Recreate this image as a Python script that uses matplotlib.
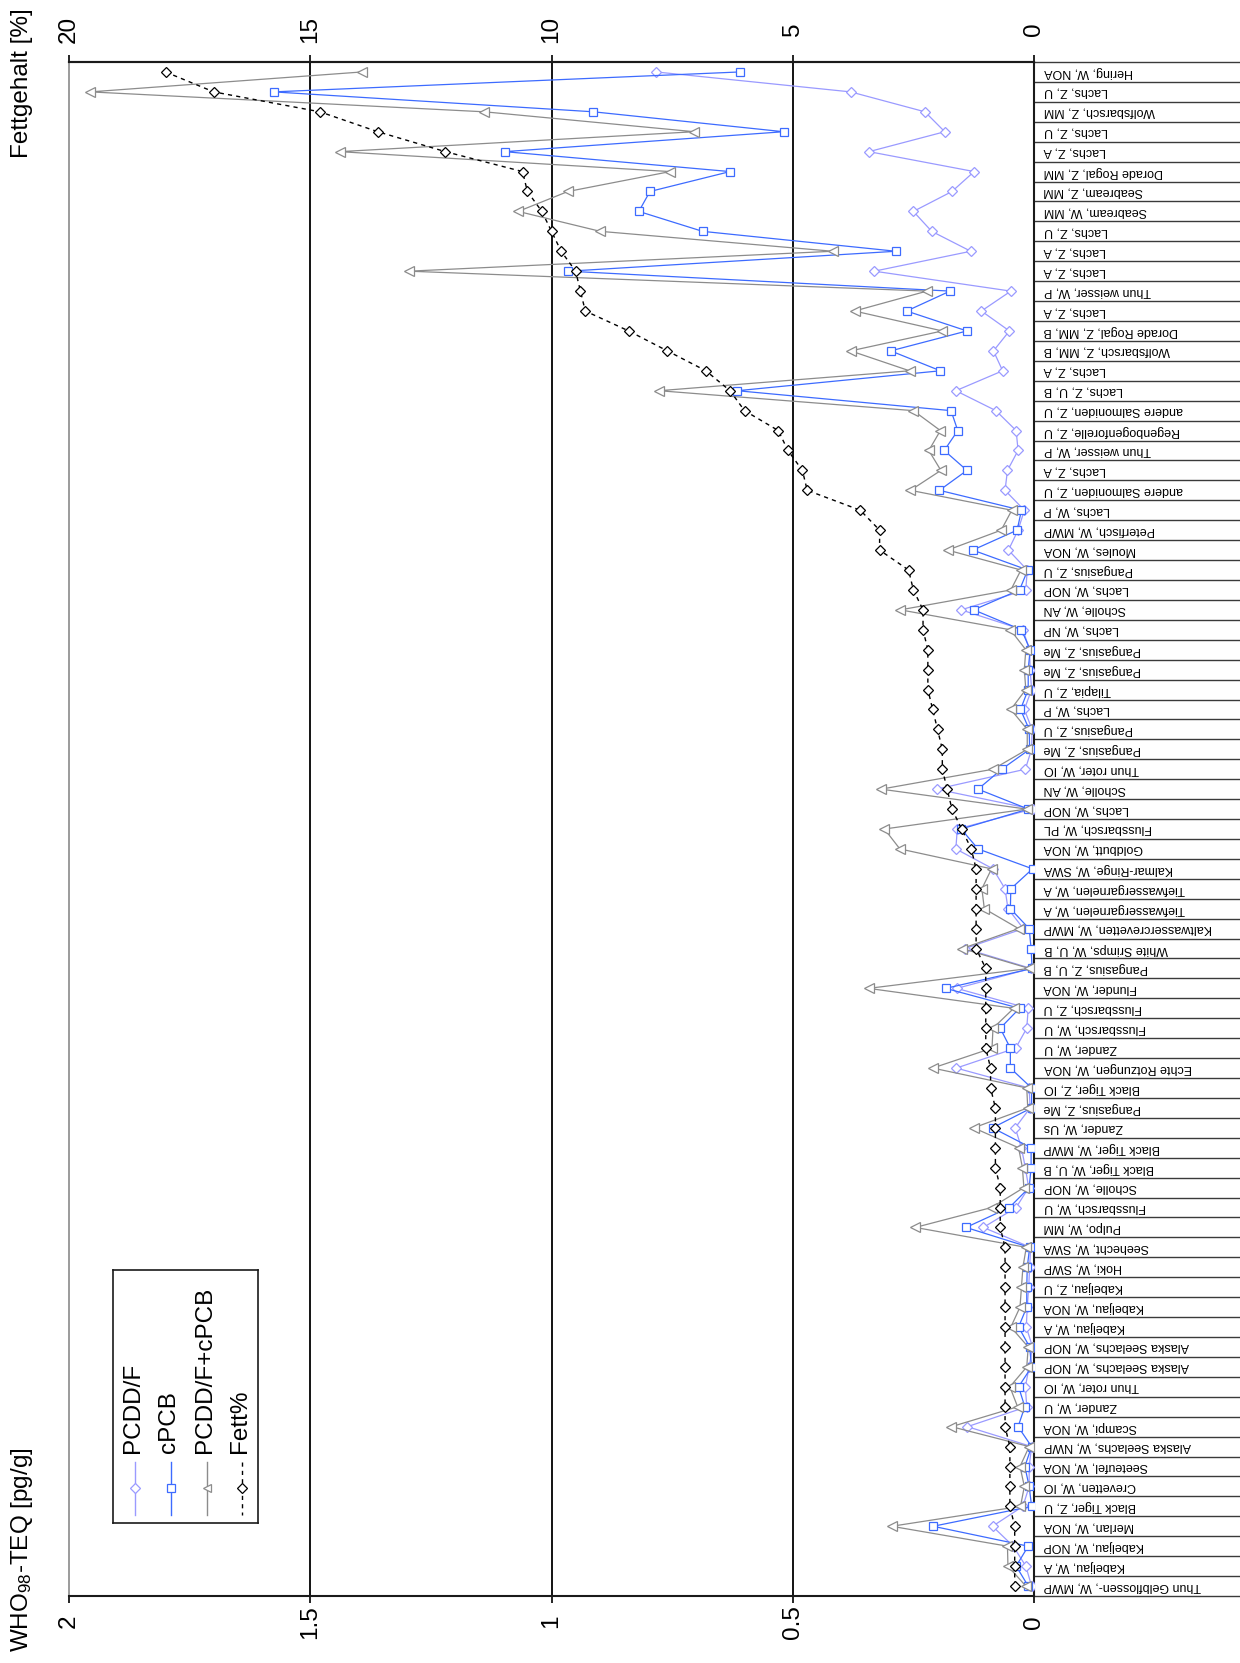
import matplotlib
matplotlib.use("Agg")
import matplotlib.pyplot as plt
import numpy as np

plt.rcParams["font.family"] = ["Liberation Sans", "DejaVu Sans"]
plt.rcParams["mathtext.default"] = "regular"

# samples, listed top to bottom as drawn
categories = [
    "Hering, W, NOA", "Lachs, Z, U", "Wolfsbarsch, Z, MM", "Lachs, Z, U", "Lachs, Z, A",
    "Dorade Rogal, Z, MM", "Seabream, Z, MM", "Seabream, W, MM", "Lachs, Z, U", "Lachs, Z, A",
    "Lachs, Z, A", "Thun weisser, W, P", "Lachs, Z, A", "Dorade Rogal, Z, MM, B", "Wolfsbarsch, Z, MM, B",
    "Lachs, Z, A", "Lachs, Z, U, B", "andere Salmoniden, Z, U", "Regenbogenforelle, Z, U", "Thun weisser, W, P",
    "Lachs, Z, A", "andere Salmoniden, Z, U", "Lachs, W, P", "Peterfisch, W, MWP", "Moules, W, NOA",
    "Pangasius, Z, U", "Lachs, W, NOP", "Scholle, W, AN", "Lachs, W, NP", "Pangasius, Z, Me",
    "Pangasius, Z, Me", "Tilapia, Z, U", "Lachs, W, P", "Pangasius, Z, U", "Pangasius, Z, Me",
    "Thun roter, W, IO", "Scholle, W, AN", "Lachs, W, NOP", "Flussbarsch, W, PL", "Goldbutt, W, NOA",
    "Kalmar-Ringe, W, SWA", "Tiefwassergarnelen, W, A", "Tiefwassergarnelen, W, A", "Kaltwassercrevetten, W, MWP", "White Srimps, W, U, B",
    "Pangasius, Z, U, B", "Flunder, W, NOA", "Flussbarsch, Z, U", "Flussbarsch, W, U", "Zander, W, U",
    "Echte Rotzungen, W, NOA", "Black Tiger, Z, IO", "Pangasius, Z, Me", "Zander, W, Us", "Black Tiger, W, MWP",
    "Black Tiger, W, U, B", "Scholle, W, NOP", "Flussbarsch, W, U", "Pulpo, W, MM", "Seehecht, W, SWA",
    "Hoki, W, SWP", "Kabeljau, Z, U", "Kabeljau, W, NOA", "Kabeljau, W, A", "Alaska Seelachs, W, NOP",
    "Alaska Seelachs, W, NOP", "Thun roter, W, IO", "Zander, W, U", "Scampi, W, NOA", "Alaska Seelachs, W, NWP",
    "Seeteufel, W, NOA", "Crevetten, W, IO", "Black Tiger, Z, U", "Merlan, W, NOA", "Kabeljau, W, NOP",
    "Kabeljau, W, A", "Thun Gelbflossen-, W, MWP",
]

# WHO98-TEQ in pg/g
pcdd_f = [
    0.783, 0.380, 0.226, 0.185, 0.342, 0.124, 0.170, 0.250, 0.212, 0.131,
    0.331, 0.048, 0.109, 0.051, 0.084, 0.065, 0.162, 0.079, 0.037, 0.033,
    0.055, 0.060, 0.020, 0.033, 0.053, 0.014, 0.017, 0.151, 0.023, 0.009,
    0.008, 0.005, 0.020, 0.004, 0.005, 0.018, 0.202, 0.003, 0.159, 0.162,
    0.085, 0.060, 0.054, 0.022, 0.143, 0.006, 0.160, 0.012, 0.015, 0.038,
    0.161, 0.010, 0.008, 0.039, 0.026, 0.018, 0.011, 0.037, 0.105, 0.007,
    0.009, 0.011, 0.014, 0.016, 0.003, 0.010, 0.018, 0.015, 0.138, 0.005,
    0.010, 0.010, 0.023, 0.086, 0.043, 0.017, 0.005,
]
cpcb = [
    0.610, 1.576, 0.913, 0.519, 1.097, 0.630, 0.796, 0.819, 0.687, 0.286,
    0.965, 0.174, 0.264, 0.139, 0.297, 0.194, 0.615, 0.172, 0.158, 0.186,
    0.139, 0.196, 0.026, 0.035, 0.127, 0.013, 0.030, 0.125, 0.026, 0.008,
    0.012, 0.012, 0.028, 0.010, 0.009, 0.067, 0.116, 0.012, 0.151, 0.116,
    0.003, 0.048, 0.049, 0.010, 0.006, 0.004, 0.183, 0.030, 0.070, 0.049,
    0.049, 0.005, 0.005, 0.086, 0.006, 0.006, 0.010, 0.051, 0.141, 0.009,
    0.014, 0.015, 0.015, 0.032, 0.009, 0.005, 0.032, 0.019, 0.033, 0.005,
    0.019, 0.010, 0.005, 0.209, 0.012, 0.037, 0.012,
]
pcdd_f_cpcb = [
    1.393, 1.956, 1.139, 0.704, 1.439, 0.754, 0.966, 1.069, 0.899, 0.417,
    1.296, 0.222, 0.372, 0.190, 0.380, 0.258, 0.777, 0.250, 0.194, 0.218,
    0.193, 0.256, 0.046, 0.068, 0.179, 0.027, 0.048, 0.277, 0.049, 0.017,
    0.020, 0.017, 0.048, 0.014, 0.014, 0.085, 0.317, 0.015, 0.310, 0.278,
    0.088, 0.108, 0.103, 0.032, 0.149, 0.010, 0.343, 0.042, 0.085, 0.087,
    0.210, 0.015, 0.013, 0.125, 0.032, 0.024, 0.021, 0.088, 0.246, 0.016,
    0.023, 0.026, 0.029, 0.048, 0.012, 0.015, 0.050, 0.034, 0.171, 0.010,
    0.029, 0.020, 0.028, 0.295, 0.055, 0.054, 0.017,
]
# fat content in %
fett = [
    18.0, 17.0, 14.8, 13.6, 12.2, 10.6, 10.5, 10.2, 10.0, 9.8,
    9.5, 9.4, 9.3, 8.4, 7.6, 6.8, 6.3, 6.0, 5.3, 5.1,
    4.8, 4.7, 3.6, 3.2, 3.2, 2.6, 2.5, 2.3, 2.3, 2.2,
    2.2, 2.2, 2.1, 2.0, 1.9, 1.9, 1.8, 1.7, 1.5, 1.3,
    1.2, 1.2, 1.2, 1.2, 1.2, 1.0, 1.0, 1.0, 1.0, 1.0,
    0.9, 0.9, 0.8, 0.8, 0.8, 0.8, 0.7, 0.7, 0.7, 0.6,
    0.6, 0.6, 0.6, 0.6, 0.6, 0.6, 0.6, 0.6, 0.6, 0.5,
    0.5, 0.5, 0.5, 0.4, 0.4, 0.4, 0.4,
]

teq_ticks = [2, 1.5, 1, 0.5, 0]
teq_labels = ["2", "1.5", "1", "0.5", "0"]
fett_ticks = [20, 15, 10, 5, 0]
fett_labels = ["20", "15", "10", "5", "0"]

LIGHT = "#9a9aff"
BLUE = "#3d6bff"
GRAY = "#8c8c8c"
FS = 17.5

W, H = 1240, 1663
fig = plt.figure(figsize=(W / 100, H / 100), dpi=100)
ax = fig.add_axes([69 / W, 67 / H, (1034 - 69) / W, (1596 - 62) / H])

n = len(categories)
y = np.arange(n)

for v in teq_ticks[1:-1]:
    ax.axvline(v, color="black", lw=1.3, zorder=1)

ax.plot(pcdd_f, y, color=LIGHT, lw=0.9, marker="D", ms=5, mfc="white", mec=LIGHT, mew=0.9, zorder=3)
ax.plot(cpcb, y, color=BLUE, lw=0.9, marker="s", ms=5.5, mfc="white", mec=BLUE, mew=0.9, zorder=4)
ax.plot(pcdd_f_cpcb, y, color=GRAY, lw=0.9, marker="<", ms=6.5, mfc="white", mec=GRAY, mew=0.9, zorder=5)

ax.set_xlim(2, 0)
ax.set_ylim(n - 0.5, -0.5)
ax.set_xticks(teq_ticks)
ax.set_xticklabels(teq_labels)
ax.tick_params(axis="x", direction="out", length=5, width=1.2, labelsize=FS, labelrotation=90, pad=13.5)
for lbl in ax.get_xticklabels():
    lbl.set_verticalalignment("center")

# category labels on the right, upside down, boxed by long separator ticks
ax.yaxis.tick_right()
ax.set_yticks(y)
ax.set_yticklabels(categories, rotation=180, fontsize=9, va="center", ha="left")
ax.set_yticks(np.arange(-0.5, n), minor=True)
ax.tick_params(axis="y", which="major", length=0, pad=7)
ax.tick_params(axis="y", which="minor", length=150, width=1.0, color="#3a3a3a", right=True, left=False)

ax.spines["left"].set_color("#8a8a8a")
ax.spines["left"].set_linewidth(1.2)
for s in ("right", "top", "bottom"):
    ax.spines[s].set_color("#1a1a1a")
    ax.spines[s].set_linewidth(1.5)

# fat content on the secondary value axis
ax2 = ax.twiny()
ax2.plot(fett, y, color="black", lw=1.0, ls=(0, (3, 3)), marker="D", ms=5, mfc="white", mec="black", mew=0.9, zorder=6)
ax2.set_xlim(20, 0)
ax2.set_ylim(n - 0.5, -0.5)
ax2.set_xticks(fett_ticks)
ax2.set_xticklabels(fett_labels)
ax2.tick_params(axis="x", direction="out", length=5, width=1.2, labelsize=FS, labelrotation=90, pad=18.5)
for lbl in ax2.get_xticklabels():
    lbl.set_verticalalignment("center")
for s in ("left", "right", "bottom"):
    ax2.spines[s].set_visible(False)
ax2.spines["top"].set_color("#1a1a1a")
ax2.spines["top"].set_linewidth(1.5)

fig.text(22 / W, 1 - 1652 / H, "WHO$_{98}$-TEQ [pg/g]", rotation=90, ha="center", va="bottom", fontsize=FS)
fig.text(22 / W, 1 - 158 / H, "Fettgehalt [%]", rotation=90, ha="center", va="bottom", fontsize=FS)

# legend with vertical entries
leg = fig.add_axes([113 / W, (H - 1523) / H, 145 / W, 253 / H])
leg.set_xlim(113, 258)
leg.set_ylim(1523, 1270)
leg.set_xticks([])
leg.set_yticks([])
for s in leg.spines.values():
    s.set_color("#1a1a1a")
    s.set_linewidth(1.2)

entries = [
    ("PCDD/F", LIGHT, "D", "-", 135),
    ("cPCB", BLUE, "s", "-", 171),
    ("PCDD/F+cPCB", GRAY, "<", "-", 207),
    ("Fett%", "black", "D", (0, (3, 3)), 242),
]
for label, color, marker, ls, xpos in entries:
    leg.plot([xpos, xpos], [1462, 1515], color=color, lw=1.0, ls=ls)
    leg.plot([xpos], [1488], marker=marker, ms=5.5, mfc="white", mec=color, mew=0.9, color=color)
    leg.text(xpos - 2, 1453, label, rotation=90, ha="center", va="bottom", fontsize=FS)

fig.savefig("out.png", dpi=100)
